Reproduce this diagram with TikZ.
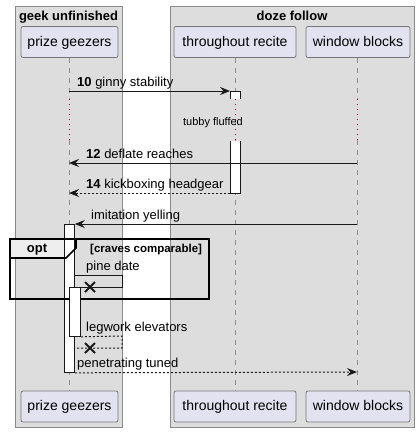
\documentclass[tikz,border=0pt]{standalone}
\usepackage{fontspec}
\setmainfont{Liberation Sans}
\usetikzlibrary{arrows.meta,calc}
\definecolor{boxbg}{HTML}{DDDDDD}
\definecolor{boxline}{HTML}{8A8A8A}
\definecolor{partbg}{HTML}{E2E2F0}
\definecolor{partline}{HTML}{777777}
\definecolor{lifecol}{HTML}{8C8C8C}
\definecolor{delaycol}{HTML}{A80036}
\definecolor{ink}{HTML}{181818}
\definecolor{tabbg}{HTML}{EEEEEE}
\begin{document}
\begin{tikzpicture}[x=1pt,y=-1pt,
  grp/.style={draw=boxline, fill=boxbg, line width=1pt, anchor=north west, inner sep=0pt},
  part/.style={draw=partline, fill=partbg, rounded corners=2pt, line width=0.8pt,
    minimum height=31pt, inner sep=0pt, text height=10.5pt, text depth=2pt,
    font=\fontsize{14}{16}\selectfont},
  hdr/.style={anchor=base, inner sep=0pt, font=\fontsize{13}{15}\selectfont\bfseries},
  lbl/.style={anchor=base west, inner sep=0pt, font=\fontsize{13}{15}\selectfont},
  life/.style={draw=lifecol, line width=0.8pt, dash pattern=on 5pt off 5pt},
  delayline/.style={draw=delaycol, line width=0.8pt, dash pattern=on 1pt off 4pt},
  actbox/.style={draw=ink, fill=white, line width=0.8pt},
  msg/.style={draw=ink, line width=1pt},
  arr/.style={-{Stealth[length=10pt,width=8pt,inset=3.5pt]}},
  dsh/.style={dash pattern=on 2pt off 2pt},
  xmark/.style={draw=ink, line width=2pt},
  frame/.style={draw=black, line width=1.6pt},
]
\useasboundingbox (0,0) rectangle (418,432);
\fill[white] (0,0) rectangle (418,432);

% group boxes
\node[grp, minimum width=107pt, minimum height=421pt] (g1) at (15,6) {};
\node[grp, minimum width=244pt, minimum height=421pt] (g2) at (170,6) {};
\node[hdr] (g1t) at (68.5,20) {geek unfinished};
\node[hdr] (g2t) at (292,20) {doze follow};

% participants
\node[part, minimum width=97pt] (p1) at (69.5,42) {prize geezers};
\node[part, minimum width=122pt] (p2) at (235,42) {throughout recite};
\node[part, minimum width=104pt] (p3) at (358,42) {window blocks};
\node[part, minimum width=97pt] (q1) at (69.5,406.5) {prize geezers};
\node[part, minimum width=122pt] (q2) at (235,406.5) {throughout recite};
\node[part, minimum width=104pt] (q3) at (358,406.5) {window blocks};

% lifelines with delay
\coordinate (d1a) at (69,99);  \coordinate (d1b) at (69,140);
\coordinate (d2a) at (235,99); \coordinate (d2b) at (235,140);
\coordinate (d3a) at (357,99); \coordinate (d3b) at (357,140);
\draw[life] (p1.south -| d1a) -- (d1a);
\draw[delayline] (d1a) -- (d1b);
\draw[life] (d1b) -- (q1.north -| d1b);
\draw[life] (p2.south -| d2a) -- (d2a);
\draw[delayline] (d2a) -- (d2b);
\draw[life] (d2b) -- (q2.north -| d2b);
\draw[life] (p3.south -| d3a) -- (d3a);
\draw[delayline] (d3a) -- (d3b);
\draw[life] (d3b) -- (q3.north -| d3b);
\node[anchor=base, inner sep=0pt, font=\fontsize{11}{13}\selectfont] (dl) at (213,125) {tubby fluffed};

% opt frame tab (fill)
\coordinate (fr1) at (10,239);
\coordinate (fr2) at (209,299);
\fill[tabbg] (10,239) -- (76,239) -- (76,248) -- (66,258) -- (10,258) -- cycle;

% activations
\fill[white] (230,91) rectangle (240,99);
\draw[actbox] (230,99) -- (230,91) -- (240,91) -- (240,99);
\fill[white] (230,141) rectangle (240,193);
\draw[actbox] (230,141) -- (230,193) -- (240,193) -- (240,141);
\node[actbox, anchor=north west, minimum width=10pt, minimum height=148pt, inner sep=0pt] (a1) at (64,224) {};

% frame outline
\draw[frame] (fr1) rectangle (fr2);
\draw[frame] (10,258) -- (66,258) -- (76,248) -- (76,239);
\node[hdr] (opt) at (37,252) {opt};
\node[anchor=base west, inner sep=0pt, font=\fontsize{11.5}{13}\selectfont\bfseries] (cond) at (90,252) {[craves comparable]};

% messages
\coordinate (m10s) at (69,91);   \coordinate (m10e) at (230,91);
\draw[msg, arr] (m10s) -- (m10e);
\node[lbl] (l10) at (77,86) {\textbf{10} ginny stability};

\coordinate (m12s) at (357,163); \coordinate (m12e) at (69,163);
\draw[msg, arr] (m12s) -- (m12e);
\node[lbl] (l12) at (86,158) {\textbf{12} deflate reaches};

\coordinate (m14s) at (230,193); \coordinate (m14e) at (69,193);
\draw[msg, dsh, arr] (m14s) -- (m14e);
\node[lbl] (l14) at (86,188) {\textbf{14} kickboxing headgear};

\coordinate (miys) at (357,224);
\draw[msg, arr] (miys) -- (a1.north east);
\node[lbl] (liy) at (91,219) {imitation yelling};

% self message pine date
\coordinate (pd1) at (74,275); \coordinate (pd2) at (122,275);
\coordinate (pd3) at (122,287); \coordinate (pd4) at (80,287);
\draw[msg] (pd1) -- (pd2) -- (pd3) -- (pd4);
\node[lbl] (lpd) at (86,270) {pine date};

% nested activation
\node[actbox, anchor=north west, minimum width=11pt, minimum height=49pt, inner sep=0pt] (a2) at (69,287) {};

\coordinate (x1) at (90,287);
\draw[xmark] ($(x1)+(-5,-5)$) -- ($(x1)+(5,5)$) ($(x1)+(-5,5)$) -- ($(x1)+(5,-5)$);

% self return legwork elevators
\coordinate (le2) at (122,336); \coordinate (le3) at (122,348); \coordinate (le4) at (74,348);
\draw[msg, dsh] (a2.south east) -- (le2) -- (le3) -- (le4);
\node[lbl] (lle) at (86,331) {legwork elevators};
\coordinate (x2) at (90,348);
\draw[xmark] ($(x2)+(-5,-5)$) -- ($(x2)+(5,5)$) ($(x2)+(-5,5)$) -- ($(x2)+(5,-5)$);

% penetrating tuned
\coordinate (pte) at (357,372);
\draw[msg, dsh, arr] (a1.south east) -- (pte);
\node[lbl] (lpt) at (77,367) {penetrating tuned};
\end{tikzpicture}
\end{document}
